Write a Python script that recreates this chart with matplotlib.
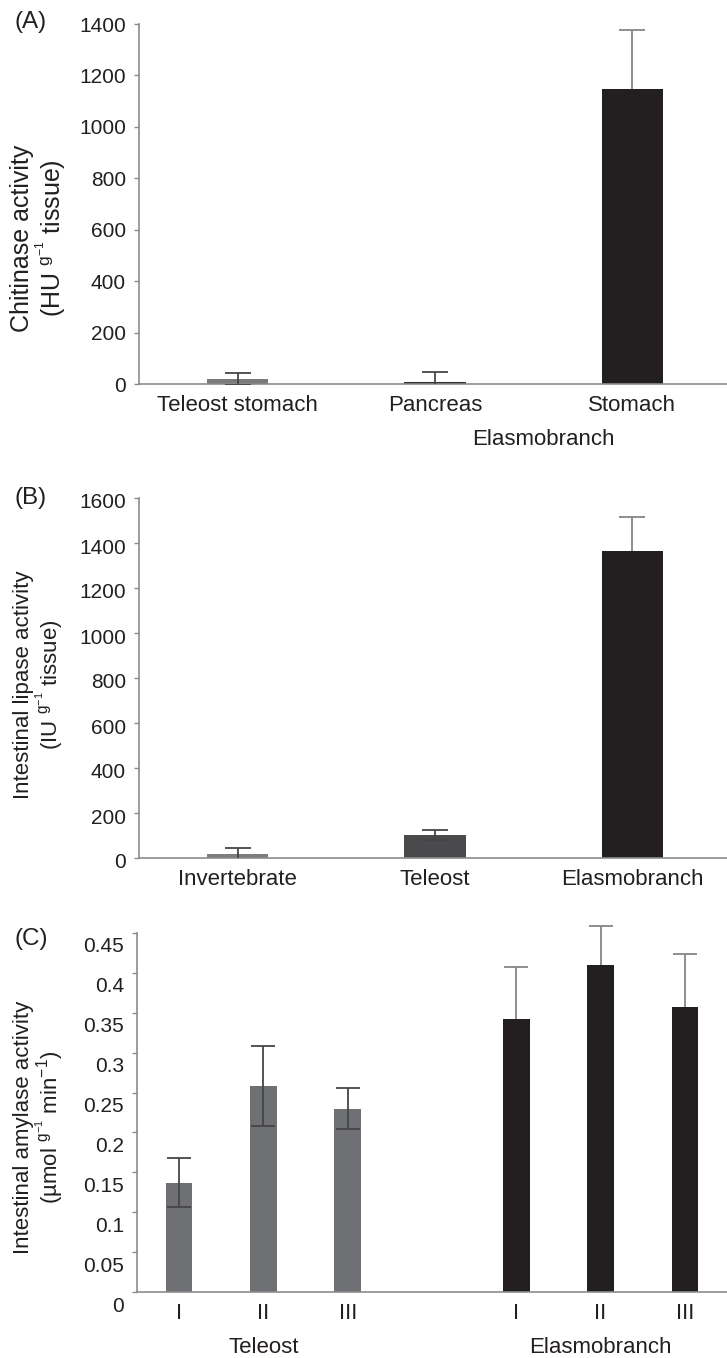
import matplotlib
matplotlib.use("Agg")
import matplotlib.pyplot as plt
import matplotlib.transforms as mtransforms

plt.rcParams['font.family'] = ['Liberation Sans', 'DejaVu Sans']
plt.rcParams['mathtext.fontset'] = 'custom'
plt.rcParams['mathtext.rm'] = 'Liberation Sans'
plt.rcParams['mathtext.it'] = 'Liberation Sans:italic'

# ---------------- data ----------------
A_categories = ['Teleost stomach', 'Pancreas', 'Stomach']
A_values = [20, 9, 1146]
A_errors = [22, 36, 231]
A_group_label = 'Elasmobranch'
A_yticks = [0, 200, 400, 600, 800, 1000, 1200, 1400]

B_categories = ['Invertebrate', 'Teleost', 'Elasmobranch']
B_values = [18, 102, 1365]
B_errors = [28, 22, 152]
B_yticks = [0, 200, 400, 600, 800, 1000, 1200, 1400, 1600]

C_groups = ['Teleost', 'Elasmobranch']
C_ticklabels = ['I', 'II', 'III', 'I', 'II', 'III']
C_values = [0.137, 0.258, 0.230, 0.342, 0.410, 0.357]
C_errors = [0.031, 0.050, 0.026, 0.066, 0.049, 0.067]
C_yticks = [0, 0.05, 0.1, 0.15, 0.2, 0.25, 0.3, 0.35, 0.4, 0.45]
C_yticklabels = ['0', '0.05', '0.1', '0.15', '0.2', '0.25', '0.3', '0.35', '0.4', '0.45']

# ---------------- style ----------------
TXT = '#231f20'
SPINE = '#8c8c8e'
GRAY = '#6f7073'
BLACK = '#231f20'
A_colors = ['#7a7a7d', '#2e2e30', BLACK]
B_colors = ['#7d7d80', '#4a4a4c', BLACK]
C_colors = [GRAY, GRAY, GRAY, BLACK, BLACK, BLACK]
FS = 15
XFS = 16

W, H = 727, 1358
fig = plt.figure(figsize=(W / 100, H / 100), dpi=100)


def frac_axes(x0, y0, x1, y1):
    return fig.add_axes([x0 / W, 1 - y1 / H, (x1 - x0) / W, (y1 - y0) / H])


def style(ax):
    for s in ['top', 'right']:
        ax.spines[s].set_visible(False)
    for s in ['left', 'bottom']:
        ax.spines[s].set_color(SPINE)
        ax.spines[s].set_linewidth(1.2)
    ax.tick_params(axis='y', direction='out', length=3.5, width=1.0,
                   color=SPINE, labelsize=FS, labelcolor=TXT, pad=6)
    ax.tick_params(axis='x', length=0, labelsize=XFS, labelcolor=TXT, pad=8)


def draw_bars(ax, xs, vals, errs, colors, width, capsize, clip=True):
    ax.bar(xs, vals, width=width, color=colors, zorder=2, linewidth=0)
    for x, v, e, c in zip(xs, vals, errs, colors):
        dark = (c == BLACK)
        ax.errorbar([x], [v], yerr=[e], fmt='none',
                    ecolor='#86868a' if dark else '#454548',
                    elinewidth=1.3, capsize=capsize, capthick=1.3,
                    zorder=1 if dark else 3, clip_on=clip)


# ---------------- panel A ----------------
axA = frac_axes(139, 24, 727, 384)
xA = list(range(len(A_categories)))
draw_bars(axA, xA, A_values, A_errors, A_colors, 0.31, 9.5)
axA.set_xlim(-0.5, 2.48)
axA.set_ylim(0, 1400)
axA.set_yticks(A_yticks)
axA.set_xticks(xA)
axA.set_xticklabels(A_categories)
style(axA)
axA.text(1.55, -0.155, A_group_label, transform=axA.get_xaxis_transform(),
         ha='center', va='center', fontsize=XFS, color=TXT)

# ---------------- panel B ----------------
axB = frac_axes(139, 498, 727, 858)
xB = list(range(len(B_categories)))
draw_bars(axB, xB, B_values, B_errors, B_colors, 0.31, 9.5)
axB.set_xlim(-0.5, 2.48)
axB.set_ylim(0, 1600)
axB.set_yticks(B_yticks)
axB.set_xticks(xB)
axB.set_xticklabels(B_categories)
style(axB)
offB = mtransforms.ScaledTranslation(0, -3 / 100, fig.dpi_scale_trans)
for lab in axB.get_yticklabels():
    lab.set_transform(lab.get_transform() + offB)

# ---------------- panel C ----------------
axC = frac_axes(137, 933, 727, 1292)
xC = [0, 1, 2, 4, 5, 6]
draw_bars(axC, xC, C_values, C_errors, C_colors, 0.315, 8.5, clip=False)
axC.set_xlim(-0.5, 6.5)
axC.set_ylim(0, 0.45)
axC.set_yticks(C_yticks)
axC.set_yticklabels(C_yticklabels)
axC.set_xticks(xC)
axC.set_xticklabels(C_ticklabels)
style(axC)
off = mtransforms.ScaledTranslation(0, -12 / 100, fig.dpi_scale_trans)
for lab in axC.get_yticklabels():
    lab.set_transform(lab.get_transform() + off)
for gx, g in zip([1, 5], C_groups):
    axC.text(gx, -0.155, g, transform=axC.get_xaxis_transform(),
             ha='center', va='center', fontsize=XFS, color=TXT)

# ---------------- y labels & panel letters ----------------
fig.text(39 / W, 1 - 238 / H, 'Chitinase activity\n(HU $^{\\mathrm{g}^{-1}}$ tissue)',
         rotation=90, ha='center', va='center', fontsize=18,
         color=TXT, multialignment='center', linespacing=0.95)
fig.text(39 / W, 1 - 685 / H, 'Intestinal lipase activity\n(IU $^{\\mathrm{g}^{-1}}$ tissue)',
         rotation=90, ha='center', va='center', fontsize=16,
         color=TXT, multialignment='center', linespacing=1.0)
fig.text(39 / W, 1 - 1127 / H,
         'Intestinal amylase activity\n(\u00b5mol $^{\\mathrm{g}^{-1}}$ min$^{-1}$)',
         rotation=90, ha='center', va='center', fontsize=16,
         color=TXT, multialignment='center', linespacing=1.0)

for lab, y in [('(A)', 11), ('(B)', 487), ('(C)', 928)]:
    fig.text(14 / W, 1 - y / H, lab, ha='left', va='top', fontsize=17.5, color=TXT)

fig.savefig('out.png', dpi=100, facecolor='white')
